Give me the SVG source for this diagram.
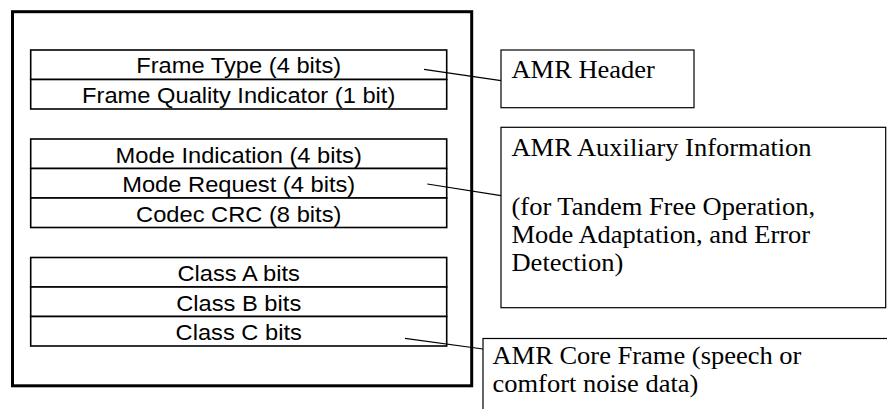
<svg xmlns="http://www.w3.org/2000/svg" width="887" height="409" viewBox="0 0 887 409">
<style>
.outer{fill:none;stroke:#000;stroke-width:3}
.cell{fill:#fff;stroke:#000;stroke-width:1.6}
.note{fill:#fff;stroke:#000;stroke-width:1.2}
.lbl{font-family:"Liberation Sans",Arial,sans-serif;font-size:22.4px;fill:#000;text-anchor:middle}
.nt{font-family:"Liberation Serif","Times New Roman",serif;font-size:24.2px;fill:#000}
.con{stroke:#000;stroke-width:1.2;fill:none}
</style>
<rect width="887" height="409" fill="#fff"/>
<g id="frame">
<rect class="outer" x="12.5" y="11.7" width="459.2" height="374.1"/>
</g>
<g id="header-fields">
<rect class="cell" x="30.7" y="50" width="416" height="29.5"/>
<rect class="cell" x="30.7" y="79.5" width="416" height="29.5"/>
<text class="lbl" transform="translate(238.7,73.3) scale(1.058,1)">Frame Type (4 bits)</text>
<text class="lbl" transform="translate(238.7,102.6) scale(1.058,1)">Frame Quality Indicator (1 bit)</text>
</g>
<g id="aux-fields">
<rect class="cell" x="30.7" y="139" width="416" height="29.5"/>
<rect class="cell" x="30.7" y="168.5" width="416" height="29.5"/>
<rect class="cell" x="30.7" y="198" width="416" height="29.5"/>
<text class="lbl" transform="translate(238.7,162.8) scale(1.058,1)">Mode Indication (4 bits)</text>
<text class="lbl" transform="translate(238.7,192.3) scale(1.058,1)">Mode Request (4 bits)</text>
<text class="lbl" transform="translate(238.7,221.8) scale(1.058,1)">Codec CRC (8 bits)</text>
</g>
<g id="core-fields">
<rect class="cell" x="30.7" y="257.5" width="416" height="29.5"/>
<rect class="cell" x="30.7" y="287" width="416" height="29.5"/>
<rect class="cell" x="30.7" y="316.5" width="416" height="29.5"/>
<text class="lbl" transform="translate(238.7,281.3) scale(1.058,1)">Class A bits</text>
<text class="lbl" transform="translate(238.7,310.8) scale(1.058,1)">Class B bits</text>
<text class="lbl" transform="translate(238.7,340.3) scale(1.058,1)">Class C bits</text>
</g>
<g id="connectors">
<line class="con" x1="424" y1="69.3" x2="501" y2="80.7"/>
<line class="con" x1="427.3" y1="184" x2="501" y2="195.7"/>
<line class="con" x1="405" y1="338.3" x2="483" y2="349"/>
</g>
<g id="amr-header">
<rect class="note" x="501" y="50" width="193" height="57.7"/>
<text class="nt" transform="translate(511.5,78) scale(1.095,1)">AMR Header</text>
</g>
<g id="amr-aux">
<rect class="note" x="501" y="127.3" width="384.7" height="180.4"/>
<text class="nt" transform="translate(511.5,156.3) scale(1.095,1)">AMR Auxiliary Information</text>
<text class="nt" transform="translate(511.5,214.5) scale(1.095,1)">(for Tandem Free Operation,</text>
<text class="nt" transform="translate(511.5,242.5) scale(1.095,1)">Mode Adaptation, and Error</text>
<text class="nt" transform="translate(511.5,270.5) scale(1.095,1)">Detection)</text>
</g>
<g id="amr-core">
<rect class="note" x="483" y="338.5" width="420" height="90"/>
<text class="nt" transform="translate(492.5,363.5) scale(1.095,1)">AMR Core Frame (speech or</text>
<text class="nt" transform="translate(492.5,391.5) scale(1.095,1)">comfort noise data)</text>
</g>
</svg>
